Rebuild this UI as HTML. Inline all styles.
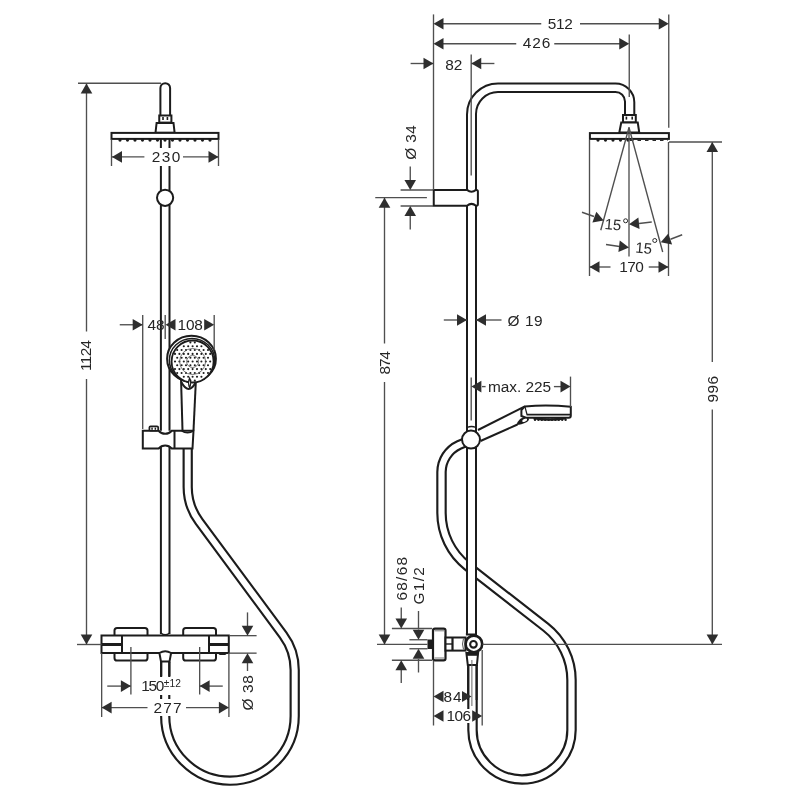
<!DOCTYPE html><html><head><meta charset="utf-8"><style>html,body{margin:0;padding:0;background:#fff;width:800px;height:800px;overflow:hidden;position:relative}</style></head><body><svg width="800" height="800" viewBox="0 0 800 800" style="position:absolute;left:0;top:0;will-change:transform">
<rect width="800" height="800" fill="#fff"/>
<g font-family="Liberation Sans, sans-serif">
<path d="M187.7 449 L187.7 487 A58 58 0 0 0 199.1 521.5 L283.2 635.1 A58.6 58.6 0 0 1 294.7 670 L294.7 715.9 A64.75 64.75 0 0 1 165.2 715.9 L165.2 662" stroke="#1c1c1c" stroke-width="10.3" fill="none"/>
<path d="M187.7 449 L187.7 487 A58 58 0 0 0 199.1 521.5 L283.2 635.1 A58.6 58.6 0 0 1 294.7 670 L294.7 715.9 A64.75 64.75 0 0 1 165.2 715.9 L165.2 662" stroke="#fff" stroke-width="6" fill="none"/>
<path d="M160.4 115.5 V88 A4.85 4.85 0 0 1 170.1 88 V115.5" stroke="#1c1c1c" stroke-width="2" fill="none"/>
<line x1="160.90" y1="132.00" x2="160.90" y2="430.75" stroke="#1c1c1c" stroke-width="2" fill="none"/>
<line x1="169.50" y1="132.00" x2="169.50" y2="430.75" stroke="#1c1c1c" stroke-width="2" fill="none"/>
<rect x="159.25" y="115.5" width="12.15" height="7.1" fill="#fff" stroke="#1c1c1c" stroke-width="2"/>
<rect x="162.2" y="117" width="1.6" height="3" fill="#1c1c1c"/><rect x="166.6" y="117" width="1.6" height="3" fill="#1c1c1c"/>
<polygon points="156.6,123 173.5,123 174.6,132.75 155.5,132.75" fill="#fff" stroke="#1c1c1c" stroke-width="2"/>
<rect x="111.5" y="132.9" width="107" height="6" fill="#fff" stroke="#1c1c1c" stroke-width="2"/>
<circle cx="120.0" cy="140.1" r="1.6" fill="#1c1c1c"/><circle cx="127.5" cy="140.1" r="1.6" fill="#1c1c1c"/><circle cx="135.0" cy="140.1" r="1.6" fill="#1c1c1c"/><circle cx="142.5" cy="140.1" r="1.6" fill="#1c1c1c"/><circle cx="150.0" cy="140.1" r="1.6" fill="#1c1c1c"/><circle cx="157.5" cy="140.1" r="1.6" fill="#1c1c1c"/><circle cx="165.0" cy="140.1" r="1.6" fill="#1c1c1c"/><circle cx="172.5" cy="140.1" r="1.6" fill="#1c1c1c"/><circle cx="180.0" cy="140.1" r="1.6" fill="#1c1c1c"/><circle cx="187.5" cy="140.1" r="1.6" fill="#1c1c1c"/><circle cx="195.0" cy="140.1" r="1.6" fill="#1c1c1c"/><circle cx="202.5" cy="140.1" r="1.6" fill="#1c1c1c"/><circle cx="210.0" cy="140.1" r="1.6" fill="#1c1c1c"/>
<circle cx="165.1" cy="197.8" r="8.1" fill="#fff" stroke="#1c1c1c" stroke-width="2"/>
<path d="M181 376 L182.5 430.5 L193.5 430.5 L196 376 Z" fill="#fff" stroke="none"/>
<line x1="181.00" y1="378.00" x2="182.50" y2="430.50" stroke="#1c1c1c" stroke-width="2" fill="none"/>
<line x1="196.00" y1="378.00" x2="193.50" y2="430.50" stroke="#1c1c1c" stroke-width="2" fill="none"/>
<ellipse cx="191.5" cy="358.8" rx="24.4" ry="23" fill="#fff" stroke="#1c1c1c" stroke-width="2"/>
<ellipse cx="192.0" cy="360.3" rx="22.6" ry="21.9" fill="none" stroke="#1c1c1c" stroke-width="1.5"/>
<circle cx="192.6" cy="361.5" r="21" fill="#fff" stroke="#1c1c1c" stroke-width="1.8"/>
<g fill="#1c1c1c"><circle cx="190.40" cy="342.45" r="1.05"/><circle cx="194.80" cy="342.45" r="1.05"/><circle cx="183.80" cy="346.26" r="1.05"/><circle cx="188.20" cy="346.26" r="1.05"/><circle cx="192.60" cy="346.26" r="1.05"/><circle cx="197.00" cy="346.26" r="1.05"/><circle cx="201.40" cy="346.26" r="1.05"/><circle cx="177.20" cy="350.07" r="1.05"/><circle cx="181.60" cy="350.07" r="1.05"/><circle cx="186.00" cy="350.07" r="1.05"/><circle cx="190.40" cy="350.07" r="1.05"/><circle cx="194.80" cy="350.07" r="1.05"/><circle cx="199.20" cy="350.07" r="1.05"/><circle cx="203.60" cy="350.07" r="1.05"/><circle cx="208.00" cy="350.07" r="1.05"/><circle cx="175.00" cy="353.88" r="1.05"/><circle cx="179.40" cy="353.88" r="1.05"/><circle cx="183.80" cy="353.88" r="1.05"/><circle cx="188.20" cy="353.88" r="1.05"/><circle cx="192.60" cy="353.88" r="1.05"/><circle cx="197.00" cy="353.88" r="1.05"/><circle cx="201.40" cy="353.88" r="1.05"/><circle cx="205.80" cy="353.88" r="1.05"/><circle cx="210.20" cy="353.88" r="1.05"/><circle cx="177.20" cy="357.69" r="1.05"/><circle cx="181.60" cy="357.69" r="1.05"/><circle cx="186.00" cy="357.69" r="1.05"/><circle cx="190.40" cy="357.69" r="1.05"/><circle cx="194.80" cy="357.69" r="1.05"/><circle cx="199.20" cy="357.69" r="1.05"/><circle cx="203.60" cy="357.69" r="1.05"/><circle cx="208.00" cy="357.69" r="1.05"/><circle cx="175.00" cy="361.50" r="1.05"/><circle cx="179.40" cy="361.50" r="1.05"/><circle cx="183.80" cy="361.50" r="1.05"/><circle cx="188.20" cy="361.50" r="1.05"/><circle cx="192.60" cy="361.50" r="1.05"/><circle cx="197.00" cy="361.50" r="1.05"/><circle cx="201.40" cy="361.50" r="1.05"/><circle cx="205.80" cy="361.50" r="1.05"/><circle cx="210.20" cy="361.50" r="1.05"/><circle cx="177.20" cy="365.31" r="1.05"/><circle cx="181.60" cy="365.31" r="1.05"/><circle cx="186.00" cy="365.31" r="1.05"/><circle cx="190.40" cy="365.31" r="1.05"/><circle cx="194.80" cy="365.31" r="1.05"/><circle cx="199.20" cy="365.31" r="1.05"/><circle cx="203.60" cy="365.31" r="1.05"/><circle cx="208.00" cy="365.31" r="1.05"/><circle cx="175.00" cy="369.12" r="1.05"/><circle cx="179.40" cy="369.12" r="1.05"/><circle cx="183.80" cy="369.12" r="1.05"/><circle cx="188.20" cy="369.12" r="1.05"/><circle cx="192.60" cy="369.12" r="1.05"/><circle cx="197.00" cy="369.12" r="1.05"/><circle cx="201.40" cy="369.12" r="1.05"/><circle cx="205.80" cy="369.12" r="1.05"/><circle cx="210.20" cy="369.12" r="1.05"/><circle cx="177.20" cy="372.93" r="1.05"/><circle cx="181.60" cy="372.93" r="1.05"/><circle cx="186.00" cy="372.93" r="1.05"/><circle cx="190.40" cy="372.93" r="1.05"/><circle cx="194.80" cy="372.93" r="1.05"/><circle cx="199.20" cy="372.93" r="1.05"/><circle cx="203.60" cy="372.93" r="1.05"/><circle cx="208.00" cy="372.93" r="1.05"/><circle cx="183.80" cy="376.74" r="1.05"/><circle cx="188.20" cy="376.74" r="1.05"/><circle cx="192.60" cy="376.74" r="1.05"/><circle cx="197.00" cy="376.74" r="1.05"/><circle cx="201.40" cy="376.74" r="1.05"/><circle cx="190.40" cy="380.55" r="1.05"/><circle cx="194.80" cy="380.55" r="1.05"/></g>
<circle cx="192.6" cy="361.5" r="13" fill="none" stroke="#555" stroke-width="0.8"/>
<circle cx="192.6" cy="361.5" r="6" fill="none" stroke="#555" stroke-width="0.8"/>
<path d="M181.3 382 Q188.7 396 195.9 382" fill="none" stroke="#1c1c1c" stroke-width="2"/>
<path d="M189.6 376.5 Q186.3 383 189.6 389.5 Q192.9 383 189.6 376.5 Z" fill="#1c1c1c"/>
<path d="M189.6 380 Q188.6 383 189.6 386 Q190.6 383 189.6 380 Z" fill="#fff"/>
<path d="M142.8 430.75 H158.6 A8.7 8.7 0 0 0 171.75 430.75 H193.5 L192.5 448.5 H171.75 A8.7 8.7 0 0 0 158.6 448.5 H142.8 Z" fill="#fff" stroke="#1c1c1c" stroke-width="2"/>
<path d="M181.8 430.75 A9.5 9.5 0 0 0 193.3 430.75" fill="none" stroke="#1c1c1c" stroke-width="1.8"/>
<line x1="174.50" y1="430.50" x2="174.50" y2="449.00" stroke="#1c1c1c" stroke-width="2" fill="none"/>
<rect x="149.4" y="426.4" width="8.8" height="4.35" rx="1.2" fill="#fff" stroke="#1c1c1c" stroke-width="1.7"/>
<rect x="151.3" y="427.6" width="1.5" height="2.2" fill="#1c1c1c"/><rect x="154.6" y="427.6" width="1.5" height="2.2" fill="#1c1c1c"/>
<line x1="160.90" y1="446.50" x2="160.90" y2="634.00" stroke="#1c1c1c" stroke-width="2" fill="none"/>
<line x1="169.50" y1="446.50" x2="169.50" y2="634.00" stroke="#1c1c1c" stroke-width="2" fill="none"/>
<rect x="114.5" y="628" width="33.0" height="32.5" rx="2.6" fill="#fff" stroke="#1c1c1c" stroke-width="2"/>
<rect x="183.2" y="628" width="32.8" height="32.5" rx="2.6" fill="#fff" stroke="#1c1c1c" stroke-width="2"/>
<rect x="101.5" y="635.5" width="127.3" height="17.5" fill="#fff" stroke="#1c1c1c" stroke-width="2"/>
<line x1="122.00" y1="635.50" x2="122.00" y2="653.00" stroke="#1c1c1c" stroke-width="2" fill="none"/>
<line x1="209.00" y1="635.50" x2="209.00" y2="653.00" stroke="#1c1c1c" stroke-width="2" fill="none"/>
<line x1="101.50" y1="644.50" x2="122.00" y2="644.50" stroke="#1c1c1c" stroke-width="3"/>
<line x1="209.00" y1="644.50" x2="228.80" y2="644.50" stroke="#1c1c1c" stroke-width="3"/>
<path d="M160.9 633 Q165.2 636.5 169.5 633" fill="none" stroke="#1c1c1c" stroke-width="1.5"/>
<path d="M218.5 655 Q222.5 651 226.5 655 Z" fill="#1c1c1c"/>
<path d="M159.4 653 Q165.2 649.5 171.1 653 L169.5 661.6 H161 Z" fill="#fff" stroke="#1c1c1c" stroke-width="2"/>
<line x1="161.20" y1="661.60" x2="161.20" y2="676.00" stroke="#1c1c1c" stroke-width="2" fill="none"/>
<line x1="169.40" y1="661.60" x2="169.40" y2="676.00" stroke="#1c1c1c" stroke-width="2" fill="none"/>
<line x1="78.00" y1="83.25" x2="161.00" y2="83.25" stroke="#4f4f4f" stroke-width="1.35" fill="none"/>
<line x1="77.00" y1="644.50" x2="101.50" y2="644.50" stroke="#4f4f4f" stroke-width="1.35" fill="none"/>
<line x1="86.50" y1="84.00" x2="86.50" y2="331.50" stroke="#4f4f4f" stroke-width="1.35" fill="none"/>
<line x1="86.50" y1="379.00" x2="86.50" y2="644.00" stroke="#4f4f4f" stroke-width="1.35" fill="none"/>
<polygon points="86.50,83.50 92.30,93.50 80.70,93.50" fill="#2e2e2e"/>
<polygon points="86.50,644.40 80.70,634.40 92.30,634.40" fill="#2e2e2e"/>
<text transform="translate(91.000,371.000) rotate(-90) scale(1.0000,1)" font-size="15.400" letter-spacing="-0.667" fill="#252525">1124</text>
<line x1="111.50" y1="139.50" x2="111.50" y2="166.00" stroke="#4f4f4f" stroke-width="1.35" fill="none"/>
<line x1="218.50" y1="139.50" x2="218.50" y2="166.00" stroke="#4f4f4f" stroke-width="1.35" fill="none"/>
<line x1="112.00" y1="156.90" x2="144.40" y2="156.90" stroke="#4f4f4f" stroke-width="1.35" fill="none"/>
<line x1="183.00" y1="156.90" x2="218.00" y2="156.90" stroke="#4f4f4f" stroke-width="1.35" fill="none"/>
<polygon points="112.00,156.90 122.00,151.10 122.00,162.70" fill="#2e2e2e"/>
<polygon points="218.50,156.90 208.50,162.70 208.50,151.10" fill="#2e2e2e"/>
<rect x="147" y="148" width="34" height="18" fill="#fff"/>
<text transform="translate(151.800,162.352) scale(1.0000,1)" font-size="15.400" letter-spacing="1.400" fill="#252525">230</text>
<line x1="142.70" y1="315.00" x2="142.70" y2="429.00" stroke="#4f4f4f" stroke-width="1.35" fill="none"/>
<line x1="165.20" y1="315.00" x2="165.20" y2="339.00" stroke="#4f4f4f" stroke-width="1.35" fill="none"/>
<line x1="214.20" y1="315.00" x2="214.20" y2="350.00" stroke="#4f4f4f" stroke-width="1.35" fill="none"/>
<line x1="119.75" y1="324.75" x2="142.70" y2="324.75" stroke="#4f4f4f" stroke-width="1.35" fill="none"/>
<polygon points="142.70,324.75 132.70,330.55 132.70,318.95" fill="#2e2e2e"/>
<polygon points="165.50,324.75 175.50,318.95 175.50,330.55" fill="#2e2e2e"/>
<polygon points="214.20,324.75 204.20,330.55 204.20,318.95" fill="#2e2e2e"/>
<text transform="translate(147.500,329.755) scale(1.0000,1)" font-size="15.400" letter-spacing="0.000" fill="#252525">48</text>
<text transform="translate(177.600,329.755) scale(1.0000,1)" font-size="15.400" letter-spacing="-0.200" fill="#252525">108</text>
<line x1="130.90" y1="647.00" x2="130.90" y2="694.50" stroke="#4f4f4f" stroke-width="1.35" fill="none"/>
<line x1="199.65" y1="647.00" x2="199.65" y2="694.50" stroke="#4f4f4f" stroke-width="1.35" fill="none"/>
<line x1="107.25" y1="686.10" x2="130.90" y2="686.10" stroke="#4f4f4f" stroke-width="1.35" fill="none"/>
<line x1="199.65" y1="686.10" x2="222.75" y2="686.10" stroke="#4f4f4f" stroke-width="1.35" fill="none"/>
<polygon points="130.90,686.10 120.90,691.90 120.90,680.30" fill="#2e2e2e"/>
<polygon points="199.65,686.10 209.65,680.30 209.65,691.90" fill="#2e2e2e"/>
<line x1="101.65" y1="653.00" x2="101.65" y2="717.00" stroke="#4f4f4f" stroke-width="1.35" fill="none"/>
<line x1="228.90" y1="653.00" x2="228.90" y2="717.00" stroke="#4f4f4f" stroke-width="1.35" fill="none"/>
<line x1="102.00" y1="707.60" x2="147.50" y2="707.60" stroke="#4f4f4f" stroke-width="1.35" fill="none"/>
<line x1="186.00" y1="707.60" x2="228.50" y2="707.60" stroke="#4f4f4f" stroke-width="1.35" fill="none"/>
<polygon points="101.65,707.60 111.65,701.80 111.65,713.40" fill="#2e2e2e"/>
<polygon points="228.90,707.60 218.90,713.40 218.90,701.80" fill="#2e2e2e"/>
<rect x="140" y="677" width="43" height="18" fill="#fff"/>
<rect x="150" y="699" width="34" height="17" fill="#fff"/>
<text transform="translate(141.300,691.244) scale(1.0000,1)" font-size="15.400" letter-spacing="-1.350" fill="#252525">150</text>
<text transform="translate(163.800,687.000) scale(1.0000,1)" font-size="10.200" letter-spacing="0.150" fill="#252525">±12</text>
<text transform="translate(153.500,713.000) scale(1.0000,1)" font-size="15.400" letter-spacing="1.250" fill="#252525">277</text>
<line x1="229.00" y1="635.65" x2="256.60" y2="635.65" stroke="#4f4f4f" stroke-width="1.35" fill="none"/>
<line x1="229.00" y1="653.15" x2="256.60" y2="653.15" stroke="#4f4f4f" stroke-width="1.35" fill="none"/>
<line x1="247.50" y1="612.40" x2="247.50" y2="626.00" stroke="#4f4f4f" stroke-width="1.35" fill="none"/>
<line x1="247.50" y1="663.00" x2="247.50" y2="671.00" stroke="#4f4f4f" stroke-width="1.35" fill="none"/>
<polygon points="247.50,635.65 241.70,625.65 253.30,625.65" fill="#2e2e2e"/>
<polygon points="247.50,653.15 253.30,663.15 241.70,663.15" fill="#2e2e2e"/>
<text transform="translate(253.304,710.500) rotate(-90) scale(1.0000,1)" font-size="15.400" letter-spacing="0.667" fill="#252525">Ø 38</text>
<path d="M471 440 L459 445 A30 30 0 0 0 441.5 472 L441.5 513 A67.2 67.2 0 0 0 467.3 566 L545.75 627.2 A67.06 67.06 0 0 1 571.5 680 L571.5 730 A49.5 49.5 0 0 1 472.5 730 L472.5 665" stroke="#1c1c1c" stroke-width="10.5" fill="none"/>
<path d="M471 440 L459 445 A30 30 0 0 0 441.5 472 L441.5 513 A67.2 67.2 0 0 0 467.3 566 L545.75 627.2 A67.06 67.06 0 0 1 571.5 680 L571.5 730 A49.5 49.5 0 0 1 472.5 730 L472.5 665" stroke="#fff" stroke-width="6.2" fill="none"/>
<path d="M467 633 V114.5 A31 31 0 0 1 498 83.5 H615.5 A18.8 18.8 0 0 1 634.3 102.3 V115 H625 V101.5 A9.5 9.5 0 0 0 615.5 92 H498 A22 22 0 0 0 476 114 V633 Z" fill="#fff" stroke="none"/>
<path d="M467 633 V114.5 A31 31 0 0 1 498 83.5 H615.5 A18.8 18.8 0 0 1 634.3 102.3 V115" stroke="#1c1c1c" stroke-width="2" fill="none"/>
<path d="M476 633 V114 A22 22 0 0 1 498 92 H615.5 A9.5 9.5 0 0 1 625 101.5 V115" stroke="#1c1c1c" stroke-width="2" fill="none"/>
<rect x="623" y="115" width="12.8" height="7.5" fill="#fff" stroke="#1c1c1c" stroke-width="2"/>
<rect x="625.6" y="116.6" width="1.6" height="3" fill="#1c1c1c"/><rect x="631.4" y="116.6" width="1.6" height="3" fill="#1c1c1c"/>
<polygon points="621.25,122.5 637.75,122.5 639.25,132.5 619.3,132.5" fill="#fff" stroke="#1c1c1c" stroke-width="2"/>
<rect x="589.9" y="133.1" width="79" height="5.8" fill="#fff" stroke="#1c1c1c" stroke-width="2"/>
<circle cx="598.0" cy="140.1" r="1.6" fill="#1c1c1c"/><circle cx="605.5" cy="140.1" r="1.6" fill="#1c1c1c"/><circle cx="613.0" cy="140.1" r="1.6" fill="#1c1c1c"/><circle cx="620.5" cy="140.1" r="1.6" fill="#1c1c1c"/><circle cx="628.0" cy="140.1" r="1.6" fill="#1c1c1c"/>
<line x1="630" y1="140.3" x2="668" y2="140.3" stroke="#2a2a2a" stroke-width="1.6" stroke-dasharray="3.5 4"/>
<path d="M433.75 189.9 H467 Q471.5 193.5 476 189.9 H476.5 Q477.9 189.9 477.9 191.5 V204 Q477.9 205.7 476.5 205.7 H476 Q471.5 202 467 205.7 H433.75 Z" fill="#fff" stroke="#1c1c1c" stroke-width="2"/>
<line x1="471.20" y1="54.40" x2="471.20" y2="175.50" stroke="#4f4f4f" stroke-width="1.35" fill="none"/>
<path d="M478 430 L524.9 406.4 L521.4 410 L521.4 416 L517.5 424.5 L480.5 441 Z" fill="#fff" stroke="none"/>
<line x1="478.00" y1="430.00" x2="524.90" y2="406.40" stroke="#1c1c1c" stroke-width="2" fill="none"/>
<line x1="480.50" y1="441.00" x2="517.50" y2="424.50" stroke="#1c1c1c" stroke-width="2" fill="none"/>
<path d="M524.9 406.4 Q548 404.5 570.8 406.8 V415.5 Q570.8 417.7 568.8 417.7 H526 L521.4 416 V410 Z" fill="#fff" stroke="#1c1c1c" stroke-width="2"/>
<line x1="526.60" y1="414.70" x2="570.00" y2="414.70" stroke="#1c1c1c" stroke-width="1.8"/>
<line x1="524.90" y1="406.40" x2="527.00" y2="414.50" stroke="#1c1c1c" stroke-width="1.2"/>
<path d="M533.5 418.2 Q549.5 421.2 566 418.2" fill="none" stroke="#1c1c1c" stroke-width="2.2"/>
<circle cx="535.0" cy="419.8" r="1.2" fill="#1c1c1c"/><circle cx="538.4" cy="419.8" r="1.2" fill="#1c1c1c"/><circle cx="541.8" cy="419.8" r="1.2" fill="#1c1c1c"/><circle cx="545.2" cy="419.8" r="1.2" fill="#1c1c1c"/><circle cx="548.6" cy="419.8" r="1.2" fill="#1c1c1c"/><circle cx="552.0" cy="419.8" r="1.2" fill="#1c1c1c"/><circle cx="555.4" cy="419.8" r="1.2" fill="#1c1c1c"/><circle cx="558.8" cy="419.8" r="1.2" fill="#1c1c1c"/><circle cx="562.2" cy="419.8" r="1.2" fill="#1c1c1c"/><circle cx="565.6" cy="419.8" r="1.2" fill="#1c1c1c"/>
<path d="M516.5 425 Q519 416.5 527 417 Q531 419 527 422 Q521 425 516.5 425 Z" fill="#1c1c1c"/>
<ellipse cx="524.7" cy="420.3" rx="2.6" ry="1.3" transform="rotate(-25 524.7 420.3)" fill="#fff"/>
<circle cx="471" cy="439.6" r="9" fill="#fff" stroke="#1c1c1c" stroke-width="2"/>
<path d="M467 427.5 Q471.5 425.5 476 427.5" fill="none" stroke="#1c1c1c" stroke-width="1.3"/>
<line x1="471.20" y1="377.50" x2="471.20" y2="420.50" stroke="#4f4f4f" stroke-width="1.35" fill="none"/>
<path d="M433 630.5 Q433 628.6 435 628.6 H443.6 Q445.5 628.6 445.5 630.5 V658.5 Q445.5 660.4 443.6 660.4 H435 Q433 660.4 433 658.5 Z" fill="#fff" stroke="#1c1c1c" stroke-width="2.2"/>
<line x1="434.50" y1="630.80" x2="444.50" y2="630.80" stroke="#777" stroke-width="1"/>
<line x1="434.50" y1="658.00" x2="444.50" y2="658.00" stroke="#777" stroke-width="1"/>
<rect x="427.5" y="639.5" width="5.5" height="9.5" fill="#1c1c1c"/>
<rect x="445.5" y="637.5" width="20" height="13.1" fill="#fff" stroke="#1c1c1c" stroke-width="2"/>
<line x1="452.50" y1="637.50" x2="452.50" y2="650.60" stroke="#1c1c1c" stroke-width="2.2"/>
<line x1="446.00" y1="644.00" x2="452.50" y2="644.00" stroke="#1c1c1c" stroke-width="1.4"/>
<path d="M463.5 638.5 Q461.5 644 463.5 649.5" fill="none" stroke="#555" stroke-width="1"/>
<path d="M466.9 633 V634.5 H476 V633" fill="#fff" stroke="#1c1c1c" stroke-width="2"/>
<path d="M466.4 653.1 H478.1 L476.9 665 H467.8 Z" fill="#fff" stroke="#1c1c1c" stroke-width="2"/>
<line x1="466.80" y1="654.80" x2="477.60" y2="654.80" stroke="#1c1c1c" stroke-width="2"/>
<circle cx="473.9" cy="643.9" r="8.3" fill="#fff" stroke="#1c1c1c" stroke-width="2.6"/>
<circle cx="473.45" cy="644.3" r="3.3" fill="#fff" stroke="#1c1c1c" stroke-width="2.1"/>
<line x1="468.10" y1="665.00" x2="468.10" y2="700.00" stroke="#1c1c1c" stroke-width="2" fill="none"/>
<line x1="476.60" y1="665.00" x2="476.60" y2="700.00" stroke="#1c1c1c" stroke-width="2" fill="none"/>
<line x1="471.90" y1="660.00" x2="471.90" y2="706.00" stroke="#666" stroke-width="1"/>
<line x1="433.50" y1="14.40" x2="433.50" y2="190.00" stroke="#4f4f4f" stroke-width="1.35" fill="none"/>
<line x1="668.75" y1="14.50" x2="668.75" y2="127.75" stroke="#4f4f4f" stroke-width="1.35" fill="none"/>
<line x1="443.00" y1="23.75" x2="541.25" y2="23.75" stroke="#4f4f4f" stroke-width="1.35" fill="none"/>
<line x1="580.00" y1="23.75" x2="659.00" y2="23.75" stroke="#4f4f4f" stroke-width="1.35" fill="none"/>
<polygon points="433.50,23.75 443.50,17.95 443.50,29.55" fill="#2e2e2e"/>
<polygon points="668.75,23.75 658.75,29.55 658.75,17.95" fill="#2e2e2e"/>
<text transform="translate(547.750,29.342) scale(1.0000,1)" font-size="15.400" letter-spacing="-0.250" fill="#252525">512</text>
<line x1="629.25" y1="34.50" x2="629.25" y2="97.00" stroke="#4f4f4f" stroke-width="1.35" fill="none"/>
<line x1="443.00" y1="43.75" x2="516.25" y2="43.75" stroke="#4f4f4f" stroke-width="1.35" fill="none"/>
<line x1="554.25" y1="43.75" x2="620.00" y2="43.75" stroke="#4f4f4f" stroke-width="1.35" fill="none"/>
<polygon points="433.50,43.75 443.50,37.95 443.50,49.55" fill="#2e2e2e"/>
<polygon points="629.25,43.75 619.25,49.55 619.25,37.95" fill="#2e2e2e"/>
<text transform="translate(522.750,48.449) scale(1.0000,1)" font-size="15.400" letter-spacing="1.000" fill="#252525">426</text>
<line x1="410.60" y1="63.50" x2="433.50" y2="63.50" stroke="#4f4f4f" stroke-width="1.35" fill="none"/>
<line x1="471.25" y1="63.50" x2="494.40" y2="63.50" stroke="#4f4f4f" stroke-width="1.35" fill="none"/>
<polygon points="433.50,63.50 423.50,69.30 423.50,57.70" fill="#2e2e2e"/>
<polygon points="471.25,63.50 481.25,57.70 481.25,69.30" fill="#2e2e2e"/>
<text transform="translate(445.300,69.550) scale(1.0000,1)" font-size="15.400" letter-spacing="-0.200" fill="#252525">82</text>
<line x1="400.60" y1="190.00" x2="433.00" y2="190.00" stroke="#4f4f4f" stroke-width="1.35" fill="none"/>
<line x1="400.60" y1="206.00" x2="433.00" y2="206.00" stroke="#4f4f4f" stroke-width="1.35" fill="none"/>
<line x1="410.25" y1="166.50" x2="410.25" y2="181.00" stroke="#4f4f4f" stroke-width="1.35" fill="none"/>
<line x1="410.25" y1="216.00" x2="410.25" y2="229.50" stroke="#4f4f4f" stroke-width="1.35" fill="none"/>
<polygon points="410.25,190.00 404.45,180.00 416.05,180.00" fill="#2e2e2e"/>
<polygon points="410.25,206.00 416.05,216.00 404.45,216.00" fill="#2e2e2e"/>
<text transform="translate(415.704,159.800) rotate(-90) scale(1.0000,1)" font-size="15.400" letter-spacing="0.400" fill="#252525">Ø 34</text>
<line x1="375.25" y1="197.65" x2="426.90" y2="197.65" stroke="#4f4f4f" stroke-width="1.35" fill="none"/>
<line x1="377.00" y1="644.40" x2="427.50" y2="644.40" stroke="#4f4f4f" stroke-width="1.35" fill="none"/>
<line x1="384.50" y1="198.00" x2="384.50" y2="343.50" stroke="#4f4f4f" stroke-width="1.35" fill="none"/>
<line x1="384.50" y1="382.00" x2="384.50" y2="644.00" stroke="#4f4f4f" stroke-width="1.35" fill="none"/>
<polygon points="384.50,197.65 390.30,207.65 378.70,207.65" fill="#2e2e2e"/>
<polygon points="384.50,644.40 378.70,634.40 390.30,634.40" fill="#2e2e2e"/>
<text transform="translate(389.852,374.500) rotate(-90) scale(1.0000,1)" font-size="15.400" letter-spacing="-1.000" fill="#252525">874</text>
<line x1="443.80" y1="320.00" x2="467.00" y2="320.00" stroke="#4f4f4f" stroke-width="1.35" fill="none"/>
<line x1="476.00" y1="320.00" x2="501.50" y2="320.00" stroke="#4f4f4f" stroke-width="1.35" fill="none"/>
<polygon points="467.00,320.00 457.00,325.80 457.00,314.20" fill="#2e2e2e"/>
<polygon points="476.00,320.00 486.00,314.20 486.00,325.80" fill="#2e2e2e"/>
<text transform="translate(507.600,325.968) scale(1.0000,1)" font-size="15.400" letter-spacing="0.533" fill="#252525">Ø 19</text>
<line x1="570.50" y1="376.60" x2="570.50" y2="407.00" stroke="#4f4f4f" stroke-width="1.35" fill="none"/>
<line x1="482.00" y1="386.60" x2="485.60" y2="386.60" stroke="#4f4f4f" stroke-width="1.35" fill="none"/>
<line x1="553.90" y1="386.60" x2="561.00" y2="386.60" stroke="#4f4f4f" stroke-width="1.35" fill="none"/>
<polygon points="471.40,386.60 481.40,380.80 481.40,392.40" fill="#2e2e2e"/>
<polygon points="570.50,386.60 560.50,392.40 560.50,380.80" fill="#2e2e2e"/>
<text transform="translate(488.100,391.532) scale(1.0000,1)" font-size="15.400" letter-spacing="-0.057" fill="#252525">max. 225</text>
<line x1="589.50" y1="140.00" x2="589.50" y2="276.00" stroke="#4f4f4f" stroke-width="1.35" fill="none"/>
<line x1="668.50" y1="142.00" x2="668.50" y2="276.00" stroke="#4f4f4f" stroke-width="1.35" fill="none"/>
<line x1="629.00" y1="127.50" x2="629.00" y2="256.50" stroke="#4f4f4f" stroke-width="1.35" fill="none"/>
<line x1="629.00" y1="127.50" x2="600.75" y2="230.25" stroke="#4f4f4f" stroke-width="1.35" fill="none"/>
<line x1="629.00" y1="127.50" x2="662.70" y2="252.00" stroke="#4f4f4f" stroke-width="1.35" fill="none"/>
<line x1="669.00" y1="142.00" x2="722.00" y2="142.00" stroke="#4f4f4f" stroke-width="1.35" fill="none"/>
<line x1="610.50" y1="267.00" x2="589.50" y2="267.00" stroke="#4f4f4f" stroke-width="1.35" fill="none"/>
<line x1="648.75" y1="267.00" x2="668.50" y2="267.00" stroke="#4f4f4f" stroke-width="1.35" fill="none"/>
<polygon points="589.50,267.00 599.50,261.20 599.50,272.80" fill="#2e2e2e"/>
<polygon points="668.50,267.00 658.50,272.80 658.50,261.20" fill="#2e2e2e"/>
<text transform="translate(619.250,272.102) scale(1.0000,1)" font-size="15.400" letter-spacing="-0.500" fill="#252525">170</text>
<line x1="582.00" y1="212.25" x2="594.00" y2="216.50" stroke="#4f4f4f" stroke-width="1.35" fill="none"/>
<polygon points="603.75,220.50 592.37,222.55 596.32,211.64" fill="#2e2e2e"/>
<line x1="651.75" y1="222.00" x2="639.00" y2="223.50" stroke="#4f4f4f" stroke-width="1.35" fill="none"/>
<polygon points="629.00,224.25 638.37,217.47 639.53,229.02" fill="#2e2e2e"/>
<line x1="606.00" y1="244.50" x2="619.50" y2="246.50" stroke="#4f4f4f" stroke-width="1.35" fill="none"/>
<polygon points="629.00,247.50 618.37,252.05 619.77,240.54" fill="#2e2e2e"/>
<line x1="682.20" y1="234.75" x2="670.50" y2="239.25" stroke="#4f4f4f" stroke-width="1.35" fill="none"/>
<polygon points="660.75,242.25 668.29,233.49 672.10,244.45" fill="#2e2e2e"/>
<text transform="translate(612.6,229.8) rotate(5)" font-size="15" fill="#2b2b2b" text-anchor="middle">15</text>
<circle cx="625.6" cy="220.8" r="2" fill="none" stroke="#2a2a2a" stroke-width="1"/>
<text transform="translate(643.3,253.2) rotate(5)" font-size="15" fill="#2b2b2b" text-anchor="middle">15</text>
<circle cx="654.75" cy="240.5" r="2" fill="none" stroke="#2a2a2a" stroke-width="1"/>
<line x1="712.30" y1="142.50" x2="712.30" y2="362.00" stroke="#4f4f4f" stroke-width="1.35" fill="none"/>
<line x1="712.30" y1="409.50" x2="712.30" y2="644.00" stroke="#4f4f4f" stroke-width="1.35" fill="none"/>
<polygon points="712.30,142.00 718.10,152.00 706.50,152.00" fill="#2e2e2e"/>
<polygon points="712.40,644.40 706.60,634.40 718.20,634.40" fill="#2e2e2e"/>
<line x1="482.50" y1="644.40" x2="722.00" y2="644.40" stroke="#4f4f4f" stroke-width="1.35" fill="none"/>
<text transform="translate(717.845,402.500) rotate(-90) scale(1.0000,1)" font-size="15.400" letter-spacing="0.500" fill="#252525">996</text>
<line x1="391.90" y1="628.50" x2="432.00" y2="628.50" stroke="#4f4f4f" stroke-width="1.35" fill="none"/>
<line x1="391.90" y1="660.25" x2="432.00" y2="660.25" stroke="#4f4f4f" stroke-width="1.35" fill="none"/>
<line x1="401.25" y1="607.50" x2="401.25" y2="619.00" stroke="#4f4f4f" stroke-width="1.35" fill="none"/>
<line x1="401.25" y1="670.00" x2="401.25" y2="683.00" stroke="#4f4f4f" stroke-width="1.35" fill="none"/>
<polygon points="401.25,628.50 395.45,618.50 407.05,618.50" fill="#2e2e2e"/>
<polygon points="401.25,660.25 407.05,670.25 395.45,670.25" fill="#2e2e2e"/>
<line x1="409.40" y1="639.75" x2="427.50" y2="639.75" stroke="#4f4f4f" stroke-width="1.35" fill="none"/>
<line x1="409.40" y1="648.75" x2="427.50" y2="648.75" stroke="#4f4f4f" stroke-width="1.35" fill="none"/>
<line x1="418.50" y1="611.00" x2="418.50" y2="629.50" stroke="#4f4f4f" stroke-width="1.35" fill="none"/>
<line x1="418.50" y1="659.00" x2="418.50" y2="672.50" stroke="#4f4f4f" stroke-width="1.35" fill="none"/>
<polygon points="418.50,639.75 412.70,629.75 424.30,629.75" fill="#2e2e2e"/>
<polygon points="418.50,648.75 424.30,658.75 412.70,658.75" fill="#2e2e2e"/>
<text transform="translate(406.849,600.500) rotate(-90) scale(1.0000,1)" font-size="15.400" letter-spacing="1.250" fill="#252525">68/68</text>
<text transform="translate(424.356,604.500) rotate(-90) scale(1.0000,1)" font-size="15.400" letter-spacing="1.333" fill="#252525">G1/2</text>
<line x1="433.50" y1="660.50" x2="433.50" y2="725.50" stroke="#4f4f4f" stroke-width="1.35" fill="none"/>
<line x1="482.20" y1="650.00" x2="482.20" y2="725.50" stroke="#4f4f4f" stroke-width="1.35" fill="none"/>
<polygon points="433.50,696.50 443.50,690.70 443.50,702.30" fill="#2e2e2e"/>
<polygon points="471.50,696.50 461.50,702.30 461.50,690.70" fill="#2e2e2e"/>
<polygon points="433.50,716.00 443.50,710.20 443.50,721.80" fill="#2e2e2e"/>
<polygon points="482.20,716.00 472.20,721.80 472.20,710.20" fill="#2e2e2e"/>
<rect x="445" y="690" width="17" height="13" fill="#fff"/>
<rect x="446" y="709" width="25.5" height="14" fill="#fff"/>
<text transform="translate(443.500,701.852) scale(1.0000,1)" font-size="15.400" letter-spacing="1.000" fill="#252525">84</text>
<text transform="translate(446.500,721.352) scale(1.0000,1)" font-size="15.400" letter-spacing="-0.500" fill="#252525">106</text>
</g></svg></body></html>
